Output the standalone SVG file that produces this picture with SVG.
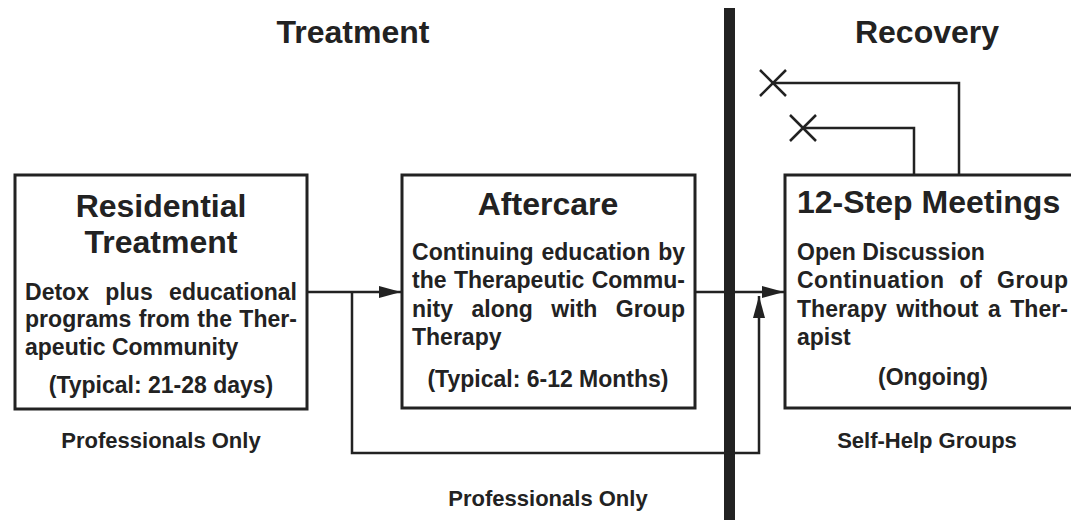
<svg xmlns="http://www.w3.org/2000/svg" width="1071" height="520" viewBox="0 0 1071 520">
<style>
text{font-family:"Liberation Sans",Arial,sans-serif;font-weight:bold;fill:#222}
.h{font-size:32px}
.b{font-size:23px}
.s{font-size:22px}
.c{text-anchor:middle}
.box{fill:#fff;stroke:#222;stroke-width:3}
.ln{fill:none;stroke:#222;stroke-width:2.5}
</style>
<defs>
<marker id="ah" markerWidth="22" markerHeight="12" refX="22" refY="6" orient="auto" markerUnits="userSpaceOnUse">
<path d="M0,0 L22,6 L0,12 Z" fill="#222"/>
</marker>
</defs>
<rect width="1071" height="520" fill="#fff"/>
<text class="h c" x="353" y="43">Treatment</text>
<text class="h c" x="927" y="43">Recovery</text>
<rect id="divider" x="724" y="8" width="11" height="512" fill="#222"/>
<g id="connectors">
<path class="ln" d="M307,292 H401" marker-end="url(#ah)"/>
<path class="ln" d="M352,292 V453 H759 V296" marker-end="url(#ah)"/>
<path class="ln" d="M695,292 H784" marker-end="url(#ah)"/>
<path class="ln" d="M773,83 H959 V175"/>
<path class="ln" d="M803,128 H914 V175"/>
<path class="ln" d="M760,70 L786,96 M760,96 L786,70"/>
<path class="ln" d="M790,115 L816,141 M790,141 L816,115"/>
</g>
<g id="residential">
<rect class="box" x="15" y="175" width="292" height="234"/>
<text class="h c" x="161" y="217">Residential</text>
<text class="h c" x="161" y="253">Treatment</text>
<text class="b" x="25" y="300" textLength="272" lengthAdjust="spacing" word-spacing="10">Detox plus educational</text>
<text class="b" x="25" y="327" textLength="272" lengthAdjust="spacing" word-spacing="1">programs from the Ther-</text>
<text class="b" x="25" y="355">apeutic Community</text>
<text class="b c" x="161" y="393">(Typical: 21-28 days)</text>
</g>
<g id="aftercare">
<rect class="box" x="402" y="175" width="293" height="233"/>
<text class="h c" x="548" y="215">Aftercare</text>
<text class="b" x="412" y="260" textLength="273" lengthAdjust="spacing" word-spacing="1.5">Continuing education by</text>
<text class="b" x="412" y="288" textLength="273" lengthAdjust="spacing" word-spacing="1">the Therapeutic Commu-</text>
<text class="b" x="412" y="317" textLength="273" lengthAdjust="spacing" word-spacing="12">nity along with Group</text>
<text class="b" x="412" y="345">Therapy</text>
<text class="b c" x="548" y="387">(Typical: 6-12 Months)</text>
</g>
<g id="meetings">
<rect class="box" x="785" y="175" width="300" height="233"/>
<text class="h" x="797" y="213">12-Step Meetings</text>
<text class="b" x="797" y="260">Open Discussion</text>
<text class="b" x="797" y="288" textLength="271" lengthAdjust="spacing" word-spacing="8">Continuation of Group</text>
<text class="b" x="797" y="317" textLength="271" lengthAdjust="spacing" word-spacing="3">Therapy without a Ther-</text>
<text class="b" x="797" y="345">apist</text>
<text class="b c" x="933" y="385">(Ongoing)</text>
</g>
<text class="s c" x="161" y="448">Professionals Only</text>
<text class="s c" x="927" y="448">Self-Help Groups</text>
<text class="s c" x="548" y="506">Professionals Only</text>
</svg>
